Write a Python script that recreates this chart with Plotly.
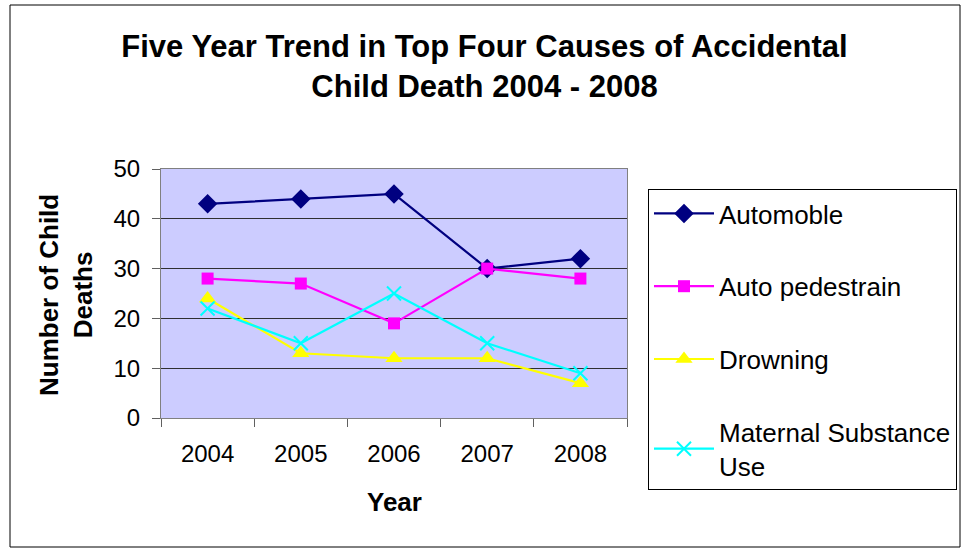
import plotly.graph_objects as go

years = ["2004", "2005", "2006", "2007", "2008"]
automobile = [43, 44, 45, 30, 32]
auto_pedestrian = [28, 27, 19, 30, 28]
drowning = [24, 13, 12, 12, 7]
maternal = [22, 15, 25, 15, 9]

FONT = "Liberation Sans, Arial, sans-serif"

W, H = 969, 550
L, R, T, B = 161, 627, 169, 418
pw, ph = R - L, B - T

def px_x(px):
    return (px - L) / pw

def px_y(py):
    return (B - py) / ph

fig = go.Figure()
series = [
    ("Automoble", automobile, "#000080", "diamond", 15, None),
    ("Auto pedestrain", auto_pedestrian, "#FF00FF", "square", 12, None),
    ("Drowning", drowning, "#FFFF00", "triangle-up", 15, None),
    ("Maternal Substance<br>Use", maternal, "#00FFFF", "x-thin", 14, 2),
]
for i, (name, vals, col, sym, sz, lw) in enumerate(series):
    marker = dict(symbol=sym, size=sz, color=col)
    if lw:
        marker["line"] = dict(color=col, width=lw)
    fig.add_trace(go.Scatter(
        x=years, y=vals, name=name, mode="lines+markers",
        line=dict(color=col, width=2.2), marker=marker,
        legendgroup=str(i),
    ))

fig.update_layout(
    width=W, height=H,
    margin=dict(l=L, r=W - R, t=T, b=H - B),
    paper_bgcolor="white",
    plot_bgcolor="#CCCCFF",
    font=dict(family=FONT, size=24, color="black"),
    title=dict(
        text="<b>Five Year Trend in Top Four Causes of Accidental<br>Child Death 2004 - 2008</b>",
        x=0.5, xref="container", xanchor="center",
        y=1 - 57 / H, yref="container", yanchor="middle",
        font=dict(family=FONT, size=31, color="black"),
    ),
    showlegend=True,
    legend=dict(
        x=px_x(648), y=px_y(189), xanchor="left", yanchor="top",
        bordercolor="black", borderwidth=1, bgcolor="white",
        font=dict(family=FONT, size=26, color="black"),
        tracegroupgap=36,
        itemwidth=60,
        maxheight=2000,
    ),
)

fig.update_xaxes(
    type="category", range=[-0.5, 4.5],
    showgrid=False, tickson="boundaries", ticks="outside", ticklen=8,
    tickcolor="#606060", linecolor="#808080", showline=True, mirror=True,
    tickfont=dict(family=FONT, size=24, color="black"),
    ticklabelstandoff=14,
)
fig.update_yaxes(
    range=[0, 50], dtick=10, showgrid=True, gridcolor="#303030", gridwidth=1,
    ticks="outside", ticklen=8, tickcolor="#606060",
    linecolor="#808080", showline=True, mirror=True, zeroline=False,
    tickfont=dict(family=FONT, size=24, color="black"),
    ticklabelstandoff=7,
)

fig.add_annotation(
    text="<b>Number of Child<br>Deaths</b>", textangle=-90,
    x=px_x(66), y=px_y(295), xref="paper", yref="paper",
    xanchor="center", yanchor="middle",
    showarrow=False, font=dict(family=FONT, size=26, color="black"),
)
fig.add_annotation(
    text="<b>Year</b>",
    x=px_x(394), y=px_y(502), xref="paper", yref="paper",
    xanchor="center", yanchor="middle",
    showarrow=False, font=dict(family=FONT, size=26, color="black"),
)

# outer chart border
fig.add_shape(
    type="rect", xref="paper", yref="paper",
    x0=px_x(10), x1=px_x(960), y0=px_y(547), y1=px_y(5),
    line=dict(color="black", width=1), fillcolor="rgba(0,0,0,0)", layer="below",
)

fig.write_html("out.html")
